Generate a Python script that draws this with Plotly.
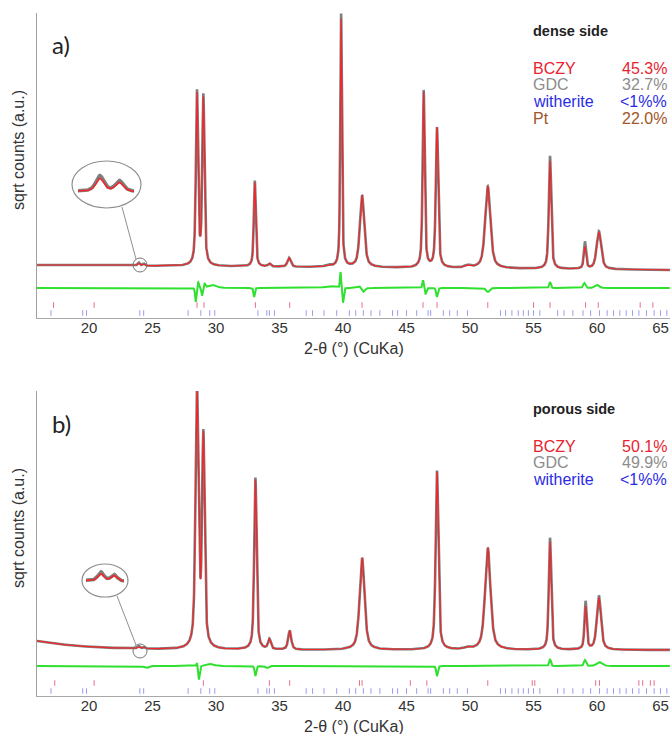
import numpy as np
import plotly.graph_objects as go

W, H = 670, 734

# ---------------- data ----------------
tick_vals = [20, 25, 30, 35, 40, 45, 50, 55, 60, 65]
x_range = [15.9, 65.75]

# Panel a (dense side): reflections (2-theta), calc / obs heights above background, FWHM (deg)
a_peak_pos  = [23.9, 24.3, 28.5, 29.0, 33.05, 34.2, 35.75, 38.8, 39.85, 41.5, 46.35, 47.4, 49.8, 51.4, 56.3, 59.05, 60.15]
a_peak_calc = [2.6, 1.8, 170, 166, 84, 3, 9, 1.5, 248, 72, 175, 140, 2, 82, 108, 22, 37]
a_peak_obs  = [3.2, 2.2, 173, 169, 86, 3, 9, 2.0, 253, 72, 177, 140, 2.5, 82, 113, 27, 38]
a_peak_fwhm = [0.2, 0.2, 0.2, 0.2, 0.18, 0.25, 0.3, 0.5, 0.15, 0.4, 0.19, 0.22, 0.5, 0.48, 0.22, 0.2, 0.42]
a_bg_left, a_bg_right = 53.0, 48.0

# difference curve features (obs - calc)
a_diff_pos  = [28.4, 28.6, 28.9, 29.1, 29.7, 33.0, 39.0, 39.8, 40.0, 41.3, 41.6, 46.3, 46.5, 47.4, 51.4, 56.3, 59.0, 60.0]
a_diff_amp  = [-14, 6, -8, 4, 3, -9, 2, 16, -15, 2, -4, 8, -6, -9, -4, 6, 5, 3]
a_diff_fwhm = [0.12, 0.12, 0.12, 0.12, 0.8, 0.12, 1.0, 0.1, 0.12, 0.3, 0.3, 0.12, 0.15, 0.15, 0.3, 0.15, 0.2, 0.4]
a_diff_zero = 30.0

# Bragg reflection markers
a_ticks_red  = [17.2, 20.4, 28.5, 29.05, 33.1, 35.8, 41.5, 46.3, 47.4, 51.4, 55.0, 56.3, 59.1, 60.1, 63.4, 64.4]
a_ticks_blue = [17.0, 19.5, 19.8, 24.0, 24.3, 27.8, 28.8, 29.5, 29.9, 33.3, 34.0, 34.2, 34.6, 37.1, 37.6, 38.5,
                39.5, 40.5, 41.0, 41.6, 42.2, 42.9, 43.9, 44.3, 45.0, 45.8, 46.7, 46.9, 47.9, 48.4, 49.0, 49.8,
                52.4, 52.8, 53.3, 53.8, 54.2, 54.6, 55.0, 55.5, 56.9, 57.4, 58.1, 58.9, 59.5, 60.2, 60.8,
                61.3, 61.8, 62.3, 62.8, 63.3, 63.9, 64.5, 65.0, 65.5]

# Panel b (porous side)
b_peak_pos  = [23.9, 24.3, 28.5, 29.0, 33.1, 34.2, 35.8, 41.5, 47.4, 49.8, 51.4, 56.3, 59.1, 60.15]
b_peak_calc = [2.0, 1.5, 255, 208, 170, 10, 19, 92, 178, 1.5, 102, 108, 43, 52]
b_peak_obs  = [2.5, 1.8, 258, 210, 172, 10, 19, 92, 179, 2.0, 102, 112, 48, 54]
b_peak_fwhm = [0.22, 0.22, 0.27, 0.24, 0.22, 0.25, 0.28, 0.45, 0.25, 0.5, 0.5, 0.22, 0.2, 0.38]
b_bg_left, b_bg_flat = 55.0, 46.0

b_diff_pos  = [24.5, 28.5, 28.65, 29.5, 33.1, 34.0, 47.4, 56.3, 59.05, 60.2]
b_diff_amp  = [-2, 4, -14, 2, -10, -2, -10, 7, 6, 4]
b_diff_fwhm = [0.4, 0.12, 0.15, 0.8, 0.15, 0.3, 0.15, 0.15, 0.2, 0.5]
b_diff_zero = 30.0

b_ticks_red  = [17.3, 20.4, 29.0, 34.2, 35.8, 41.3, 41.5, 45.3, 46.6, 51.4, 54.9, 55.1, 59.9, 60.2, 63.3, 63.6, 64.2, 64.5]
b_ticks_blue = a_ticks_blue

# phase fractions
a_phases = ["BCZY", "GDC", "witherite", "Pt"]
a_fracs  = ["45.3&#37;", "32.7&#37;", "&lt;1&#37;&#37;", "22.0&#37;"]
b_phases = ["BCZY", "GDC", "witherite"]
b_fracs  = ["50.1&#37;", "49.9&#37;", "&lt;1&#37;&#37;"]
phase_colors = {"BCZY": "#e8232f", "GDC": "#8c8c8c", "witherite": "#2b2be6", "Pt": "#a0562a"}

# ---------------- model evaluation ----------------
x = np.arange(x_range[0], x_range[1], 0.01)

def pv(xx, pos, h, w, eta=0.6):
    out = np.zeros_like(xx)
    for p, hh, ww in zip(pos, h, w):
        d = (xx - p) / ww
        out += hh * (eta / (1 + 4 * d * d) + (1 - eta) * np.exp(-4 * np.log(2) * d * d))
    return out

def bg_a(xx):
    return a_bg_left + (a_bg_right - a_bg_left) * (xx - x_range[0]) / (x_range[1] - x_range[0])

def bg_b(xx):
    return b_bg_flat + (b_bg_left - b_bg_flat) * np.exp(-(xx - x_range[0]) / 4.0)

a_calc = bg_a(x) + pv(x, a_peak_pos, a_peak_calc, a_peak_fwhm)
a_obs = bg_a(x) + pv(x, a_peak_pos, a_peak_obs, a_peak_fwhm)
a_diff = a_diff_zero + pv(x, a_diff_pos, a_diff_amp, a_diff_fwhm, eta=0.3)
b_calc = bg_b(x) + pv(x, b_peak_pos, b_peak_calc, b_peak_fwhm)
b_obs = bg_b(x) + pv(x, b_peak_pos, b_peak_obs, b_peak_fwhm)
b_diff = b_diff_zero + pv(x, b_diff_pos, b_diff_amp, b_diff_fwhm, eta=0.3)

# ---------------- figure ----------------
def PX(px):
    return px / W

def PY(py):
    return 1 - py / H

OBS_C = "rgba(105,105,105,0.85)"
CALC_C = "#f2262a"
DIFF_C = "#2fe02f"

fig = go.Figure()

def add_panel(xa, ya, obs, calc, diff, ticks_red, ticks_blue):
    fig.add_trace(go.Scatter(x=x, y=obs, mode="lines", line=dict(color=OBS_C, width=2.6),
                             xaxis=xa, yaxis=ya, showlegend=False, hoverinfo="skip"))
    fig.add_trace(go.Scatter(x=x, y=calc, mode="lines", line=dict(color=CALC_C, width=1.2),
                             xaxis=xa, yaxis=ya, showlegend=False, hoverinfo="skip"))
    fig.add_trace(go.Scatter(x=x, y=diff, mode="lines", line=dict(color=DIFF_C, width=2),
                             xaxis=xa, yaxis=ya, showlegend=False, hoverinfo="skip"))
    fig.add_trace(go.Scatter(x=ticks_red, y=[13] * len(ticks_red), mode="markers",
                             marker=dict(symbol="line-ns", size=4, opacity=0.75,
                                         line=dict(color="#e04060", width=1)),
                             xaxis=xa, yaxis=ya, showlegend=False, hoverinfo="skip"))
    fig.add_trace(go.Scatter(x=ticks_blue, y=[5] * len(ticks_blue), mode="markers",
                             marker=dict(symbol="line-ns", size=4, opacity=0.6,
                                         line=dict(color="#5a5ae6", width=1)),
                             xaxis=xa, yaxis=ya, showlegend=False, hoverinfo="skip"))

add_panel("x", "y", a_obs, a_calc, a_diff, a_ticks_red, a_ticks_blue)
add_panel("x2", "y2", b_obs, b_calc, b_diff, b_ticks_red, b_ticks_blue)

# insets (magnified region around 24 deg)
xi = np.arange(23.4, 24.65, 0.01)
for xa, ya, bgf, pos, hc, ho, fw in [
    ("x3", "y3", bg_a, a_peak_pos, a_peak_calc, a_peak_obs, a_peak_fwhm),
    ("x4", "y4", bg_b, b_peak_pos, b_peak_calc, b_peak_obs, b_peak_fwhm),
]:
    fig.add_trace(go.Scatter(x=xi, y=bgf(xi) + pv(xi, pos, ho, fw), mode="lines",
                             line=dict(color=OBS_C, width=3.5), xaxis=xa, yaxis=ya,
                             showlegend=False, hoverinfo="skip"))
    fig.add_trace(go.Scatter(x=xi, y=bgf(xi) + pv(xi, pos, hc, fw), mode="lines",
                             line=dict(color=CALC_C, width=1.6), xaxis=xa, yaxis=ya,
                             showlegend=False, hoverinfo="skip"))

axis_font = dict(family="Liberation Sans, Arial, sans-serif", size=15, color="#333")

xcommon = dict(range=x_range, tickvals=tick_vals, showgrid=False, zeroline=False,
               showline=True, linecolor="#a8a8a8", linewidth=1, ticks="",
               ticklabelstandoff=-4,
               tickfont=axis_font, domain=[PX(37), 1])
ycommon = dict(showgrid=False, zeroline=False, showticklabels=False, ticks="",
               showline=True, linecolor="#a0a0a0", linewidth=1, range=[0, 305])

inset_x = dict(showgrid=False, zeroline=False, showticklabels=False, ticks="", showline=False,
               range=[23.45, 24.6])
inset_y = dict(showgrid=False, zeroline=False, showticklabels=False, ticks="", showline=False)

fig.update_layout(
    width=W, height=H, margin=dict(l=0, r=0, t=0, b=0),
    paper_bgcolor="white", plot_bgcolor="rgba(0,0,0,0)",
    xaxis=dict(**xcommon, anchor="y"),
    yaxis=dict(**ycommon, domain=[PY(318), PY(13)], anchor="x"),
    xaxis2=dict(**xcommon, anchor="y2"),
    yaxis2=dict(**ycommon, domain=[PY(696), PY(391)], anchor="x2"),
    xaxis3=dict(**inset_x, domain=[PX(78), PX(134)], anchor="y3"),
    yaxis3=dict(**inset_y, domain=[PY(203), PY(171)], anchor="x3", range=[50.0, 56.5]),
    xaxis4=dict(**inset_x, domain=[PX(86), PX(124)], anchor="y4"),
    yaxis4=dict(**inset_y, domain=[PY(592), PY(570)], anchor="x4", range=[44.5, 50.5]),
)

shapes = []
for (ex0, ey0, ex1, ey1), (cx, cy), (lx0, ly0, lx1, ly1) in [
    ((72, 161, 141, 208), (140, 265), (122, 207, 136, 259)),
    ((82, 564, 128, 597), (140, 651), (117, 596, 136, 645)),
]:
    shapes.append(dict(type="circle", xref="paper", yref="paper",
                       x0=PX(ex0), x1=PX(ex1), y0=PY(ey1), y1=PY(ey0),
                       line=dict(color="#8f8f8f", width=1.2)))
    shapes.append(dict(type="circle", xref="paper", yref="paper",
                       x0=PX(cx - 7), x1=PX(cx + 7), y0=PY(cy + 7), y1=PY(cy - 7),
                       line=dict(color="#777", width=1)))
    shapes.append(dict(type="line", xref="paper", yref="paper",
                       x0=PX(lx0), y0=PY(ly0), x1=PX(lx1), y1=PY(ly1),
                       line=dict(color="#8f8f8f", width=1)))
fig.update_layout(shapes=shapes)

ann = []
txt_font = "Liberation Sans, Arial, sans-serif"

def add_text(text, px, py, size, color="#222", xanchor="left", bold=False, angle=0, family=txt_font):
    ann.append(dict(text=("<b>%s</b>" % text) if bold else text, x=PX(px), y=PY(py),
                    xref="paper", yref="paper", showarrow=False, xanchor=xanchor, yanchor="middle",
                    textangle=angle, font=dict(family=family, size=size, color=color)))

for off, lab, side, phases, fracs in [(0, "a)", "dense side", a_phases, a_fracs),
                                      (378, "b)", "porous side", b_phases, b_fracs)]:
    add_text(lab, 50, 45 + off, 24, "#222", family="Lato, Open Sans, sans-serif")
    add_text(side, 531, 31 + off, 14.5, "#222", bold=True)
    for i, (ph, fr) in enumerate(zip(phases, fracs)):
        c = phase_colors[ph]
        add_text(ph, 531, 68 + off + i * 16.8, 16, c)
        add_text(fr, 669, 68 + off + i * 16.8, 16, c, xanchor="right")
    add_text("sqrt counts (a.u.)", 18, 150 + off, 16, "#333", xanchor="center", angle=-90)
    add_text("2-θ (°) (CuKa)", 354, 348 + off, 16, "#333", xanchor="center")

fig.update_layout(annotations=ann)

fig.write_html("out.html")
